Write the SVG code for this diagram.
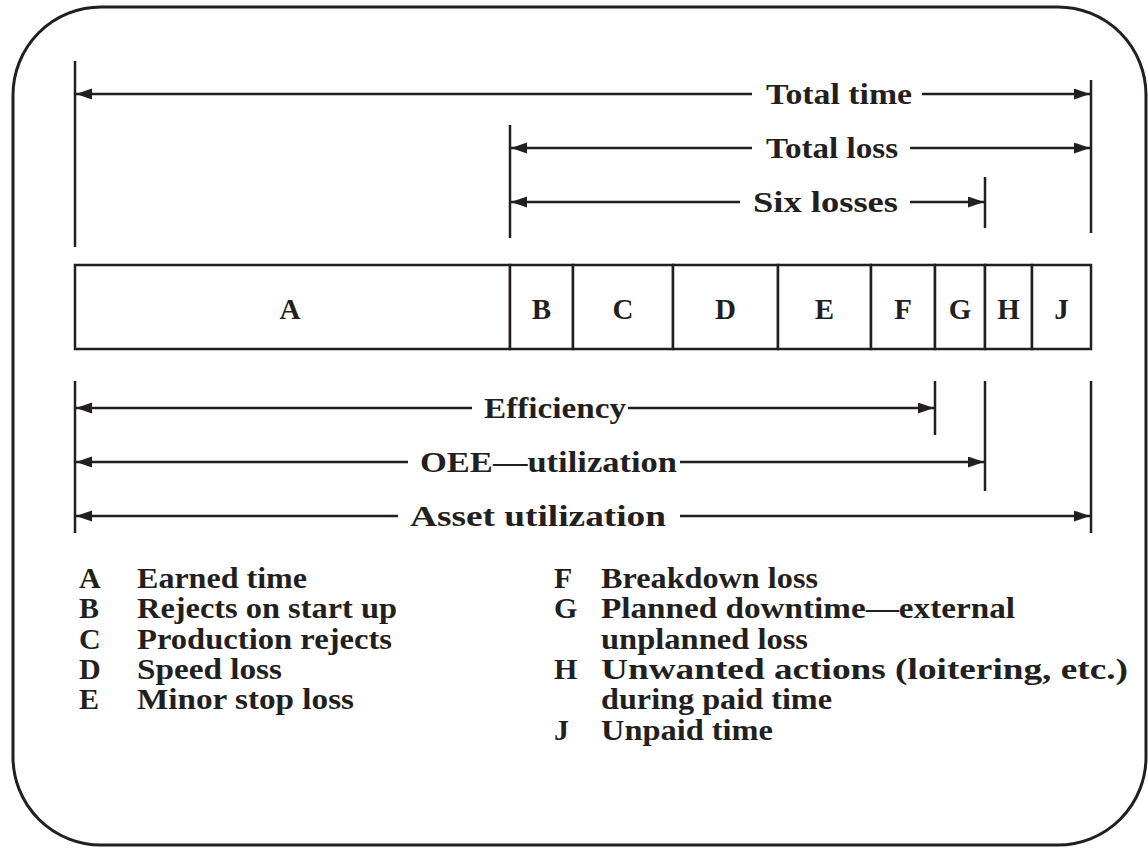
<svg xmlns="http://www.w3.org/2000/svg" width="1148" height="848" viewBox="0 0 1148 848">
<defs>
<marker id="ah" markerUnits="userSpaceOnUse" markerWidth="17" markerHeight="12" refX="16" refY="5.5" orient="auto-start-reverse"><path d="M0,0 L16,5.5 L0,11 z" fill="#231f20"/></marker>
<style>
.t{font-family:"Liberation Serif","Times New Roman",serif;font-weight:bold;fill:#231f20;}
.lbl{font-size:30px;}
.bar{font-size:29px;text-anchor:middle;}
.lg{font-size:30px;}
.dl{stroke:#231f20;stroke-width:2.5;fill:none;}
.ln{stroke:#231f20;stroke-width:2.5;fill:none;}
.cell{fill:#fff;stroke:#231f20;stroke-width:2.5;}
</style>
</defs>
<rect id="frame" x="13" y="7" width="1133" height="838" rx="88" ry="88" fill="#fff" stroke="#231f20" stroke-width="3"/>
<g id="bar">
<g id="cell-A"><rect class="cell" x="75" y="265" width="435" height="84"/><text class="t bar" x="290" y="319">A</text></g>
<g id="cell-B"><rect class="cell" x="510" y="265" width="63" height="84"/><text class="t bar" x="541.5" y="319">B</text></g>
<g id="cell-C"><rect class="cell" x="573" y="265" width="100" height="84"/><text class="t bar" x="623" y="319">C</text></g>
<g id="cell-D"><rect class="cell" x="673" y="265" width="105" height="84"/><text class="t bar" x="725.5" y="319">D</text></g>
<g id="cell-E"><rect class="cell" x="778" y="265" width="93" height="84"/><text class="t bar" x="824.5" y="319">E</text></g>
<g id="cell-F"><rect class="cell" x="871" y="265" width="64" height="84"/><text class="t bar" x="903" y="319">F</text></g>
<g id="cell-G"><rect class="cell" x="935" y="265" width="50" height="84"/><text class="t bar" x="960" y="319">G</text></g>
<g id="cell-H"><rect class="cell" x="985" y="265" width="47" height="84"/><text class="t bar" x="1008.5" y="319">H</text></g>
<g id="cell-J"><rect class="cell" x="1032" y="265" width="59" height="84"/><text class="t bar" x="1061.5" y="319">J</text></g>
</g>
<g id="connectors">
<g id="extension-lines">
<line class="ln" x1="75" y1="61" x2="75" y2="247"/>
<line class="ln" x1="510" y1="125" x2="510" y2="238"/>
<line class="ln" x1="985" y1="177" x2="985" y2="228"/>
<line class="ln" x1="1091" y1="80" x2="1091" y2="233"/>
<line class="ln" x1="75" y1="381" x2="75" y2="533"/>
<line class="ln" x1="935" y1="381" x2="935" y2="435"/>
<line class="ln" x1="985" y1="381" x2="985" y2="491"/>
<line class="ln" x1="1091" y1="381" x2="1091" y2="533"/>
</g>
<g id="dim-total-time">
<line class="dl" x1="752" y1="94" x2="76" y2="94" marker-end="url(#ah)"/>
<line class="dl" x1="922" y1="94" x2="1090" y2="94" marker-end="url(#ah)"/>
</g>
<g id="dim-total-loss">
<line class="dl" x1="752" y1="148" x2="511" y2="148" marker-end="url(#ah)"/>
<line class="dl" x1="910" y1="148" x2="1090" y2="148" marker-end="url(#ah)"/>
</g>
<g id="dim-six-losses">
<line class="dl" x1="740" y1="202" x2="511" y2="202" marker-end="url(#ah)"/>
<line class="dl" x1="910" y1="202" x2="984" y2="202" marker-end="url(#ah)"/>
</g>
<g id="dim-efficiency">
<line class="dl" x1="472" y1="408" x2="76" y2="408" marker-end="url(#ah)"/>
<line class="dl" x1="628" y1="408" x2="934" y2="408" marker-end="url(#ah)"/>
</g>
<g id="dim-oee">
<line class="dl" x1="408" y1="462" x2="76" y2="462" marker-end="url(#ah)"/>
<line class="dl" x1="680" y1="462" x2="984" y2="462" marker-end="url(#ah)"/>
</g>
<g id="dim-asset">
<line class="dl" x1="398" y1="516" x2="76" y2="516" marker-end="url(#ah)"/>
<line class="dl" x1="680" y1="516" x2="1090" y2="516" marker-end="url(#ah)"/>
</g>
</g>
<g id="dim-labels">
<text class="t lbl" x="766" y="104" textLength="146" lengthAdjust="spacingAndGlyphs">Total time</text>
<text class="t lbl" x="766" y="158" textLength="132" lengthAdjust="spacingAndGlyphs">Total loss</text>
<text class="t lbl" x="753" y="212" textLength="145" lengthAdjust="spacingAndGlyphs">Six losses</text>
<text class="t lbl" x="484" y="418" textLength="142" lengthAdjust="spacingAndGlyphs">Efficiency</text>
<text class="t lbl" x="420" y="472" textLength="257" lengthAdjust="spacingAndGlyphs">OEE—utilization</text>
<text class="t lbl" x="410" y="526" textLength="256" lengthAdjust="spacingAndGlyphs">Asset utilization</text>
</g>
<g id="legend">
<g id="legend-left">
<text class="t lg" x="79" y="588">A</text><text class="t lg" x="137" y="588" textLength="170" lengthAdjust="spacingAndGlyphs">Earned time</text>
<text class="t lg" x="79" y="618">B</text><text class="t lg" x="137" y="618" textLength="260" lengthAdjust="spacingAndGlyphs">Rejects on start up</text>
<text class="t lg" x="79" y="649">C</text><text class="t lg" x="137" y="649" textLength="255" lengthAdjust="spacingAndGlyphs">Production rejects</text>
<text class="t lg" x="79" y="679">D</text><text class="t lg" x="137" y="679" textLength="145" lengthAdjust="spacingAndGlyphs">Speed loss</text>
<text class="t lg" x="79" y="709">E</text><text class="t lg" x="137" y="709" textLength="217" lengthAdjust="spacingAndGlyphs">Minor stop loss</text>
</g>
<g id="legend-right">
<text class="t lg" x="554" y="588">F</text><text class="t lg" x="601" y="588" textLength="217" lengthAdjust="spacingAndGlyphs">Breakdown loss</text>
<text class="t lg" x="554" y="618">G</text><text class="t lg" x="601" y="618" textLength="414" lengthAdjust="spacingAndGlyphs">Planned downtime—external</text>
<text class="t lg" x="601" y="649" textLength="207" lengthAdjust="spacingAndGlyphs">unplanned loss</text>
<text class="t lg" x="554" y="679">H</text><text class="t lg" x="601" y="679" textLength="527" lengthAdjust="spacingAndGlyphs">Unwanted actions (loitering, etc.)</text>
<text class="t lg" x="601" y="709" textLength="231" lengthAdjust="spacingAndGlyphs">during paid time</text>
<text class="t lg" x="554" y="740">J</text><text class="t lg" x="601" y="740" textLength="172" lengthAdjust="spacingAndGlyphs">Unpaid time</text>
</g>
</g>
</svg>
